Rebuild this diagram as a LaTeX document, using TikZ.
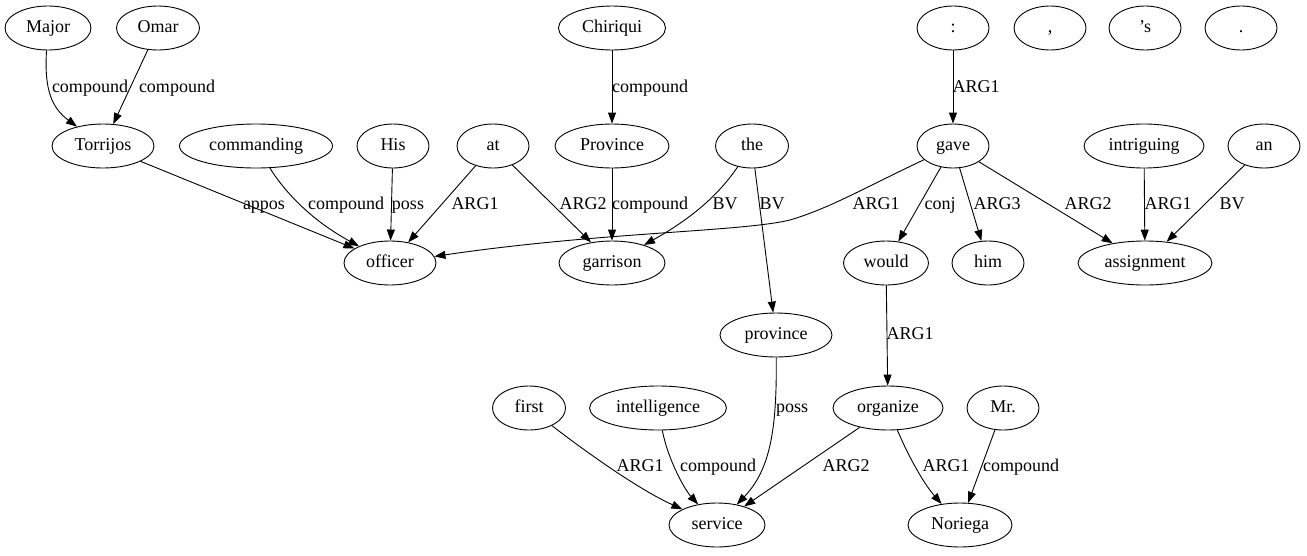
\documentclass[tikz,border=0pt]{standalone}
\usepackage{fontspec}
\setmainfont{Liberation Serif}
\usetikzlibrary{shapes.geometric,arrows.meta}
\begin{document}
\begin{tikzpicture}[x=1pt,y=-1pt,
  nd/.style={draw, ellipse, line width=0.9pt, minimum height=44pt, inner sep=0pt, text height=13pt, text depth=4pt, font=\fontsize{18}{20}\selectfont},
  lbl/.style={inner sep=0pt, text height=13pt, text depth=4pt, font=\fontsize{18}{20}\selectfont},
  e/.style={draw, line width=0.9pt, -{Triangle[length=11pt,width=8pt]}}]
\useasboundingbox (0,0) rectangle (1307,555);
% row 1
\node[nd, minimum width=86pt] (major) at (48,28) {Major};
\node[nd, minimum width=83pt] (omar) at (158,28) {Omar};
\node[nd, minimum width=107pt] (chiriqui) at (612,28) {Chiriqui};
\node[nd, minimum width=72pt] (colon) at (953,28) {:};
\node[nd, minimum width=72pt] (comma) at (1050,28) {,};
\node[nd, minimum width=72pt] (poss) at (1145,28) {’s};
\node[nd, minimum width=72pt] (period) at (1241,28) {.};
% row 2
\node[nd, minimum width=102pt] (torrijos) at (103,146) {Torrijos};
\node[nd, minimum width=153pt] (commanding) at (256,146) {commanding};
\node[nd, minimum width=72pt] (his) at (393,146) {His};
\node[nd, minimum width=72pt] (at) at (493,146) {at};
\node[nd, minimum width=114pt] (Province) at (612,146) {Province};
\node[nd, minimum width=73pt] (the) at (752,146) {the};
\node[nd, minimum width=72pt] (gave) at (953,146) {gave};
\node[nd, minimum width=120pt] (intriguing) at (1144,146) {intriguing};
\node[nd, minimum width=72pt] (an) at (1264,146) {an};
% row 3
\node[nd, minimum width=92pt] (officer) at (390,263) {officer};
\node[nd, minimum width=106pt] (garrison) at (612,263) {garrison};
\node[nd, minimum width=85pt] (would) at (886,263) {would};
\node[nd, minimum width=72pt] (him) at (988,263) {him};
\node[nd, minimum width=134pt] (assignment) at (1145,263) {assignment};
% row 4
\node[nd, minimum width=112pt] (province) at (776,335) {province};
% row 5
\node[nd, minimum width=73pt] (first) at (529,408) {first};
\node[nd, minimum width=137pt] (intelligence) at (658,408) {intelligence};
\node[nd, minimum width=110pt] (organize) at (888,408) {organize};
\node[nd, minimum width=72pt] (mr) at (1003,408) {Mr.};
% row 6
\node[nd, minimum width=96pt] (service) at (717,525) {service};
\node[nd, minimum width=104pt] (noriega) at (960,525) {Noriega};

% edges
\draw[e] (major) .. controls (44,90) and (52,108) .. (torrijos);
\draw[e] (omar) -- (torrijos);
\draw[e] (torrijos) -- (officer);
\draw[e] (commanding) .. controls (290,200) and (320,225) .. (officer);
\draw[e] (his) -- (officer);
\draw[e] (at) -- (officer);
\draw[e] (at) -- (garrison);
\draw[e] (Province) -- (garrison);
\draw[e] (chiriqui) -- (Province);
\draw[e] (the) .. controls (715,200) and (685,222) .. (garrison);
\draw[e] (the) -- (province);
\draw[e] (gave) .. controls (860,190) and (830,208) .. (790,220) .. controls (740,232) and (600,232) .. (officer);
\draw[e] (gave) -- (would);
\draw[e] (gave) -- (him);
\draw[e] (gave) -- (assignment);
\draw[e] (intriguing) -- (assignment);
\draw[e] (an) -- (assignment);
\draw[e] (colon) -- (gave);
\draw[e] (would) -- (organize);
\draw[e] (province) .. controls (777,430) and (770,470) .. (service);
\draw[e] (first) .. controls (590,455) and (640,490) .. (service);
\draw[e] (intelligence) .. controls (668,460) and (685,490) .. (service);
\draw[e] (organize) -- (service);
\draw[e] (organize) .. controls (910,460) and (925,485) .. (noriega);
\draw[e] (mr) -- (noriega);

% labels
\node[lbl] (l1) at (90,88) {compound};
\node[lbl] (l2) at (177,88) {compound};
\node[lbl] (l3) at (650,88) {compound};
\node[lbl] (l4) at (976,88) {ARG1};
\node[lbl] (l5) at (264,205) {appos};
\node[lbl] (l6) at (346,205) {compound};
\node[lbl] (l7) at (408,205) {poss};
\node[lbl] (l8) at (475,205) {ARG1};
\node[lbl] (l9) at (583,205) {ARG2};
\node[lbl] (l10) at (650,205) {compound};
\node[lbl] (l11) at (725,205) {BV};
\node[lbl] (l12) at (772,205) {BV};
\node[lbl] (l13) at (876,205) {ARG1};
\node[lbl] (l14) at (940,205) {conj};
\node[lbl] (l15) at (997,205) {ARG3};
\node[lbl] (l16) at (1088,205) {ARG2};
\node[lbl] (l17) at (1168,205) {ARG1};
\node[lbl] (l18) at (1232,205) {BV};
\node[lbl] (l19) at (910,335) {ARG1};
\node[lbl] (l20) at (792,408) {poss};
\node[lbl] (l21) at (640,467) {ARG1};
\node[lbl] (l22) at (718,467) {compound};
\node[lbl] (l23) at (846,467) {ARG2};
\node[lbl] (l24) at (946,467) {ARG1};
\node[lbl] (l25) at (1021,467) {compound};
\end{tikzpicture}
\end{document}
